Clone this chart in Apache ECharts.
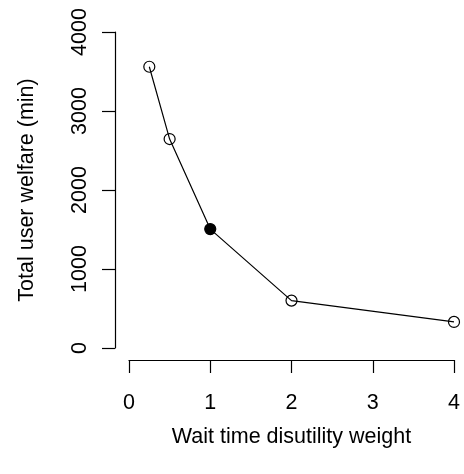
<!DOCTYPE html>
<html>
<head>
<meta charset="utf-8">
<script src="https://cdn.jsdelivr.net/npm/echarts@6/dist/echarts.min.js"></script>
<style>
  html, body { margin: 0; padding: 0; background: #fff; }
  #chart { width: 464px; height: 474px; }
</style>
</head>
<body>
<div id="chart"></div>
<script>
// Wait time disutility weights and resulting total user welfare (minutes)
const weights = [0.25, 0.5, 1, 2, 4];
const welfare = [3560, 2645, 1505, 600, 330];
// The baseline weight (1) is drawn as a filled marker
const baselineWeight = 1;
const xTicks = [0, 1, 2, 3, 4];
const yTicks = [0, 1000, 2000, 3000, 4000];

const FONT = 'Liberation Sans, Arial, Helvetica, sans-serif';
const FS = 21.5;

const points = weights.map((w, i) => ({
  value: [w, welfare[i]],
  itemStyle: w === baselineWeight
    ? { color: '#000', borderColor: '#000', borderWidth: 1.2 }
    : { color: 'rgba(0,0,0,0)', borderColor: '#000', borderWidth: 1.2 }
}));

const chart = echarts.init(document.getElementById('chart'), null, { renderer: 'canvas' });
chart.setOption({
  animation: false,
  backgroundColor: '#fff',
  grid: { left: 129, top: 32, width: 325, height: 316 },
  xAxis: {
    type: 'value',
    min: xTicks[0],
    max: xTicks[xTicks.length - 1],
    interval: 1,
    offset: 12,
    name: 'Wait time disutility weight',
    nameLocation: 'middle',
    nameGap: 66,
    nameTextStyle: { fontFamily: FONT, fontSize: FS, color: '#000' },
    axisLine: { show: true, onZero: false, lineStyle: { color: '#000', width: 1.2 } },
    axisTick: { show: true, inside: false, length: 13, lineStyle: { color: '#000', width: 1.2 } },
    axisLabel: { fontFamily: FONT, fontSize: FS, color: '#000', margin: 32 },
    splitLine: { show: false }
  },
  yAxis: {
    type: 'value',
    min: yTicks[0],
    max: yTicks[yTicks.length - 1],
    interval: 1000,
    offset: 14,
    name: 'Total user welfare (min)',
    nameLocation: 'middle',
    nameGap: 77,
    nameTextStyle: { fontFamily: FONT, fontSize: FS, color: '#000' },
    axisLine: { show: true, onZero: false, lineStyle: { color: '#000', width: 1.2 } },
    axisTick: { show: true, inside: false, length: 13, lineStyle: { color: '#000', width: 1.2 } },
    axisLabel: {
      fontFamily: FONT, fontSize: FS, color: '#000', margin: 24, rotate: 90,
      formatter: v => String(v)
    },
    splitLine: { show: false }
  },
  series: [{
    type: 'line',
    data: points,
    symbol: 'circle',
    symbolSize: 11,
    showAllSymbol: true,
    z: 3,
    lineStyle: { color: '#000', width: 1.2 },
    itemStyle: { color: 'rgba(0,0,0,0)', borderColor: '#000', borderWidth: 1.2 }
  }]
});
</script>
</body>
</html>
